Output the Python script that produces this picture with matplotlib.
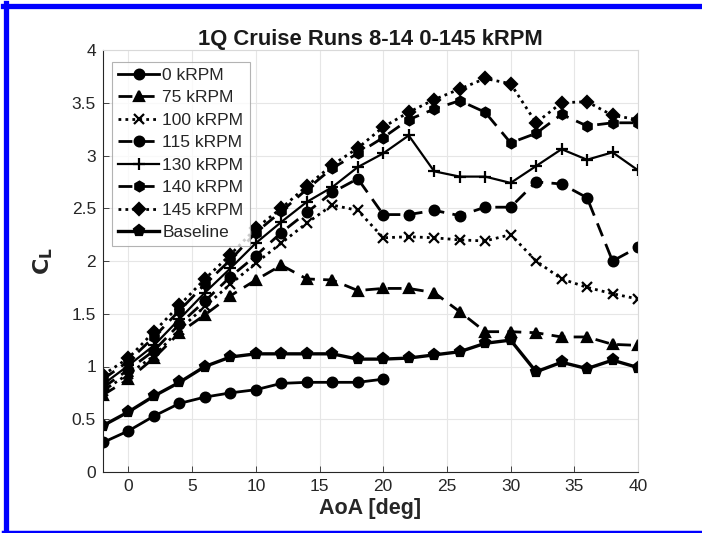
import numpy as np
import matplotlib.pyplot as plt
from matplotlib.lines import Line2D

plt.rcParams['font.family'] = ['Liberation Sans', 'DejaVu Sans']

# angle of attack sweep
aoa = np.arange(-2, 41, 2)
aoa_0k = np.arange(-2, 21, 2)

cl_0k = [0.28, 0.39, 0.53, 0.65, 0.71, 0.75, 0.78, 0.84, 0.85, 0.85, 0.85, 0.88]
cl_75k = [0.73, 0.88, 1.08, 1.32, 1.49, 1.67, 1.82, 1.96, 1.83, 1.82, 1.72,
          1.74, 1.74, 1.70, 1.52, 1.33, 1.33, 1.32, 1.28, 1.28, 1.21, 1.20]
cl_100k = [0.77, 0.93, 1.10, 1.35, 1.57, 1.78, 1.98, 2.17, 2.36, 2.53, 2.48,
           2.22, 2.23, 2.22, 2.20, 2.19, 2.25, 2.00, 1.83, 1.75, 1.69, 1.64]
cl_115k = [0.80, 0.97, 1.15, 1.40, 1.62, 1.85, 2.05, 2.27, 2.46, 2.65, 2.78,
           2.44, 2.44, 2.48, 2.43, 2.51, 2.51, 2.75, 2.73, 2.60, 2.00, 2.13]
cl_130k = [0.83, 1.01, 1.20, 1.45, 1.70, 1.93, 2.17, 2.37, 2.56, 2.70, 2.89,
           3.02, 3.19, 2.85, 2.80, 2.80, 2.74, 2.90, 3.06, 2.96, 3.03, 2.86]
cl_140k = [0.88, 1.05, 1.28, 1.53, 1.78, 2.01, 2.27, 2.47, 2.68, 2.88, 3.02,
           3.17, 3.34, 3.44, 3.52, 3.41, 3.12, 3.21, 3.39, 3.28, 3.31, 3.31]
cl_145k = [0.92, 1.08, 1.33, 1.58, 1.83, 2.06, 2.31, 2.50, 2.71, 2.91, 3.07,
           3.27, 3.41, 3.53, 3.63, 3.73, 3.68, 3.31, 3.50, 3.51, 3.38, 3.34]
cl_base = [0.44, 0.57, 0.72, 0.85, 1.00, 1.09, 1.12, 1.12, 1.12, 1.12, 1.07,
           1.07, 1.08, 1.11, 1.14, 1.22, 1.25, 0.95, 1.04, 0.98, 1.06, 0.99]

dash = (0, (5, 3))
dot = (0, (1, 1.5))

runs = [
    ('0 kRPM', aoa_0k, cl_0k, '-', 'o', 7, 2.0),
    ('75 kRPM', aoa, cl_75k, dash, '^', 7.5, 2.0),
    ('100 kRPM', aoa, cl_100k, dot, 'x', 7, 2.0),
    ('115 kRPM', aoa, cl_115k, dash, 'o', 7, 2.0),
    ('130 kRPM', aoa, cl_130k, '-', '+', 9, 1.6),
    ('140 kRPM', aoa, cl_140k, dash, 'h', 7, 2.0),
    ('145 kRPM', aoa, cl_145k, dot, 'D', 6, 2.0),
    ('Baseline', aoa, cl_base, '-', 'p', 8, 2.4),
]

fig = plt.figure(figsize=(7.02, 5.33), dpi=100)
ax = fig.add_axes([103 / 702, 1 - 472 / 533, 535 / 702, 422 / 533])

for label, x, y, ls, mk, ms, lw in runs:
    ax.plot(x, y, linestyle=ls, marker=mk, markersize=ms, linewidth=lw,
            color='black', markerfacecolor='black', markeredgecolor='black',
            markeredgewidth=1.6, label=label)

ax.set_xlim(-2, 40)
ax.set_ylim(0, 4)
ax.set_xticks(np.arange(0, 41, 5))
ax.set_yticks(np.arange(0, 4.01, 0.5))
ax.set_yticklabels(['0', '0.5', '1', '1.5', '2', '2.5', '3', '3.5', '4'])
ax.grid(True, color='#e6e6e6', linewidth=0.8)
ax.set_axisbelow(True)
ax.tick_params(direction='in', length=4, width=0.6, colors='#262626',
               labelsize=12.5, top=False, right=False, pad=5)
for sp in ax.spines.values():
    sp.set_color('#d9d9d9')
    sp.set_linewidth(0.8)
ax.spines['left'].set_color('#262626')
ax.spines['bottom'].set_color('#262626')

ax.set_title('1Q Cruise Runs 8-14 0-145 kRPM', fontsize=15.8,
             fontweight='bold', color='#1a1a1a', pad=3)
ax.set_xlabel('AoA [deg]', fontsize=15.5, fontweight='bold', color='#262626',
              labelpad=3)
ax.set_ylabel('$\\mathbf{C_L}$', fontsize=16, color='#262626', labelpad=12)

leg = ax.legend(loc='upper left', bbox_to_anchor=(0.017, 0.972),
                fontsize=12.5, frameon=True, fancybox=False, handlelength=2.35,
                handletextpad=0.2, labelspacing=0.42, borderpad=0.35,
                borderaxespad=0)
leg.get_frame().set_edgecolor('#a0a0a0')
leg.get_frame().set_linewidth(0.8)
for t in leg.get_texts():
    t.set_color('#262626')

# blue frame around the figure
W, H = 702, 533
fig.add_artist(Line2D([5.5 / W, 5.5 / W], [0, 1 - 3 / H], color='#0000ff',
                      linewidth=3.8, transform=fig.transFigure))
fig.add_artist(Line2D([3 / W, 1], [1 - 5.5 / H, 1 - 5.5 / H], color='#0000ff',
                      linewidth=3.8, transform=fig.transFigure))
fig.add_artist(Line2D([3 / W, 1], [1.5 / H, 1.5 / H], color='#0000ff',
                      linewidth=2.5, transform=fig.transFigure))

fig.savefig('out.png', dpi=100)
